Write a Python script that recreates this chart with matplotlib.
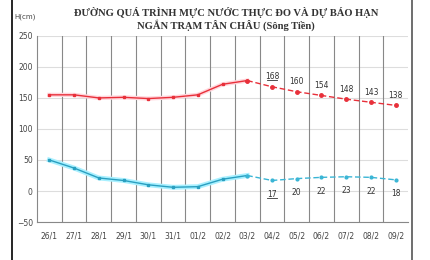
import numpy as np
import matplotlib.pyplot as plt

dates = ['26/1', '27/1', '28/1', '29/1', '30/1', '31/1', '01/2', '02/2', '03/2',
         '04/2', '05/2', '06/2', '07/2', '08/2', '09/2']
red_obs = [155, 155, 150, 151, 149, 151, 155, 172, 178]
red_fc = [168, 160, 154, 148, 143, 138]
blue_obs = [50, 37, 21, 17, 10, 6, 7, 19, 25]
blue_fc = [17, 20, 22, 23, 22, 18]
yticks = [-50, 0, 50, 100, 150, 200, 250]

n_obs = len(red_obs)
x = np.arange(len(dates))
x_obs = x[:n_obs]
x_fc = x[n_obs - 1:]
red_fc_line = [red_obs[-1]] + red_fc
blue_fc_line = [blue_obs[-1]] + blue_fc

fig = plt.figure(figsize=(4.3, 2.6), dpi=100)
ax = fig.add_axes([0.086, 0.146, 0.863, 0.716])

# khung ngoai
fig.add_artist(plt.Line2D([12 / 430, 12 / 430], [0, 1], color='black', lw=1.2))
fig.add_artist(plt.Line2D([412 / 430, 412 / 430], [0, 1], color='#555555', lw=1.2))

# luoi
for v in yticks:
    ax.axhline(v, color='#dddddd', lw=0.8, zorder=0)
for b in np.arange(0.5, len(dates) - 0.5, 1):
    ax.axvline(b, color='#888888', lw=0.8, zorder=0)

# duong thuc do (co vien sang)
ax.plot(x_obs, red_obs, color='#ffd6dc', lw=3, zorder=2)
ax.plot(x_obs, red_obs, color='#e8303a', lw=1.0, marker='s', ms=2, zorder=3)
ax.plot(x_obs, blue_obs, color='#a8f0ff', lw=3.5, zorder=2)
ax.plot(x_obs, blue_obs, color='#2a9fc0', lw=1.0, marker='s', ms=2, zorder=3)

# duong du bao
ax.plot(x_fc, red_fc_line, color='#e8303a', lw=1.0, ls=(0, (4, 2)), marker='o', ms=2.5,
        zorder=3)
ax.plot(x_fc, blue_fc_line, color='#3ab5d5', lw=1.0, ls=(0, (4, 2)), marker='o', ms=2,
        zorder=3)

for i, v in enumerate(red_fc):
    ax.text(x[n_obs + i], v + 9, str(v), ha='center', va='bottom', fontsize=5.5,
            color='#333333')
for i, v in enumerate(blue_fc):
    ax.text(x[n_obs + i], v - 15, str(v), ha='center', va='top', fontsize=5.5,
            color='#333333')
# gach chan so dau tien
ax.plot([n_obs - 0.22, n_obs + 0.22], [red_fc[0] + 11, red_fc[0] + 11], color='#333333',
        lw=0.6)
ax.plot([n_obs - 0.2, n_obs + 0.2], [blue_fc[0] - 29, blue_fc[0] - 29], color='#333333',
        lw=0.6)

ax.set_xlim(-0.5, len(dates) - 0.5)
ax.set_ylim(-50, 250)
ax.set_yticks(yticks)
ax.set_xticks(x)
ax.set_xticklabels(dates)
ax.tick_params(axis='both', labelsize=5.5, colors='#444444', length=0, pad=3)
ax.tick_params(axis='x', pad=7)
for s in ['top', 'right']:
    ax.spines[s].set_visible(False)
for s in ['left', 'bottom']:
    ax.spines[s].set_color('#888888')
    ax.spines[s].set_linewidth(0.8)

fig.text(0.525, 0.953, 'ĐƯỜNG QUÁ TRÌNH MỰC NƯỚC THỰC ĐO VÀ DỰ BÁO HẠN',
         ha='center', va='center', fontsize=7.6, fontweight='bold',
         family='Liberation Serif', color='#333333')
fig.text(0.525, 0.905, 'NGẮN TRẠM TÂN CHÂU (Sông Tiền)',
         ha='center', va='center', fontsize=7.6, fontweight='bold',
         family='Liberation Serif', color='#333333')
fig.text(25 / 430, 0.935, 'H(cm)', ha='center', va='center', fontsize=5, color='#444444')

fig.savefig('out.png', dpi=100)
